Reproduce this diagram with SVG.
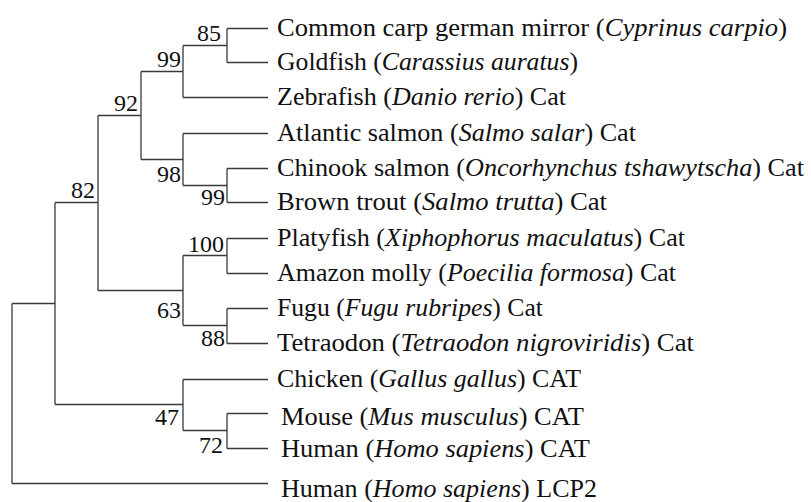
<svg xmlns="http://www.w3.org/2000/svg" width="811" height="502" viewBox="0 0 811 502">
<style>
.br{fill:none;stroke:#3a3a3a;stroke-width:1.3}
text{font-family:'Liberation Serif',Tinos,'Times New Roman',Times,'Nimbus Roman','Nimbus Roman No9 L',FreeSerif,'Noto Serif','DejaVu Serif',serif;fill:#111}
.lb{font-size:25px}
.bs{font-size:24px;text-anchor:end}
.i{font-style:italic}
</style>
<rect width="811" height="502" fill="#fff"/>
<g id="connectors">
<path class="br" d="M12,303.5V483.5M12,303.5H55M12,483.5H268"/>
<path class="br" d="M55,202.5V404.5M55,202.5H98M55,404.5H183"/>
<path class="br" d="M98,115.5V290.5M98,115.5H141M98,290.5H183"/>
<path class="br" d="M141,71.5V159.5M141,71.5H183M141,159.5H183"/>
<path class="br" d="M183,45.5V97.5M183,45.5H227M183,97.5H268"/>
<path class="br" d="M227,28.5V62.5M227,28.5H268M227,62.5H268"/>
<path class="br" d="M183,133.5V185.5M183,133.5H268M183,185.5H227"/>
<path class="br" d="M227,168.5V202.5M227,168.5H268M227,202.5H268"/>
<path class="br" d="M183,255.5V325.5M183,255.5H227M183,325.5H227"/>
<path class="br" d="M227,238.5V273.5M227,238.5H268M227,273.5H268"/>
<path class="br" d="M227,308.5V343.5M227,308.5H268M227,343.5H268"/>
<path class="br" d="M183,379.5V430.5M183,379.5H268M183,430.5H227"/>
<path class="br" d="M227,413.5V448.5M227,413.5H268M227,448.5H268"/>
</g>
<g id="n85"><text class="bs" x="221" y="41">85</text></g>
<g id="n99a"><text class="bs" x="181" y="67">99</text></g>
<g id="n92"><text class="bs" x="138" y="111">92</text></g>
<g id="n98"><text class="bs" x="181" y="182">98</text></g>
<g id="n99b"><text class="bs" x="225" y="205">99</text></g>
<g id="n82"><text class="bs" x="95" y="198">82</text></g>
<g id="n100"><text class="bs" x="224" y="252">100</text></g>
<g id="n63"><text class="bs" x="181" y="318">63</text></g>
<g id="n88"><text class="bs" x="225" y="346">88</text></g>
<g id="n47"><text class="bs" x="179" y="425">47</text></g>
<g id="n72"><text class="bs" x="223" y="453">72</text></g>
<g id="leaf1"><text class="lb" x="277" y="36" textLength="510" lengthAdjust="spacingAndGlyphs">Common carp german mirror (<tspan class="i">Cyprinus carpio</tspan>)</text></g>
<g id="leaf2"><text class="lb" x="277" y="70" textLength="301" lengthAdjust="spacingAndGlyphs">Goldfish (<tspan class="i">Carassius auratus</tspan>)</text></g>
<g id="leaf3"><text class="lb" x="277" y="105" textLength="289" lengthAdjust="spacingAndGlyphs">Zebrafish (<tspan class="i">Danio rerio</tspan>) Cat</text></g>
<g id="leaf4"><text class="lb" x="277" y="141" textLength="359" lengthAdjust="spacingAndGlyphs">Atlantic salmon (<tspan class="i">Salmo salar</tspan>) Cat</text></g>
<g id="leaf5"><text class="lb" x="277" y="176" textLength="527" lengthAdjust="spacingAndGlyphs">Chinook salmon (<tspan class="i">Oncorhynchus tshawytscha</tspan>) Cat</text></g>
<g id="leaf6"><text class="lb" x="277" y="210" textLength="330" lengthAdjust="spacingAndGlyphs">Brown trout (<tspan class="i">Salmo trutta</tspan>) Cat</text></g>
<g id="leaf7"><text class="lb" x="277" y="246" textLength="408" lengthAdjust="spacingAndGlyphs">Platyfish (<tspan class="i">Xiphophorus maculatus</tspan>) Cat</text></g>
<g id="leaf8"><text class="lb" x="277" y="281" textLength="399" lengthAdjust="spacingAndGlyphs">Amazon molly (<tspan class="i">Poecilia formosa</tspan>) Cat</text></g>
<g id="leaf9"><text class="lb" x="277" y="316" textLength="266" lengthAdjust="spacingAndGlyphs">Fugu (<tspan class="i">Fugu rubripes</tspan>) Cat</text></g>
<g id="leaf10"><text class="lb" x="277" y="351" textLength="417" lengthAdjust="spacingAndGlyphs">Tetraodon (<tspan class="i">Tetraodon nigroviridis</tspan>) Cat</text></g>
<g id="leaf11"><text class="lb" x="277" y="387" textLength="304" lengthAdjust="spacingAndGlyphs">Chicken (<tspan class="i">Gallus gallus</tspan>) CAT</text></g>
<g id="leaf12"><text class="lb" x="281" y="425" textLength="303" lengthAdjust="spacingAndGlyphs">Mouse (<tspan class="i">Mus musculus</tspan>) CAT</text></g>
<g id="leaf13"><text class="lb" x="281" y="457" textLength="309" lengthAdjust="spacingAndGlyphs">Human (<tspan class="i">Homo sapiens</tspan>) CAT</text></g>
<g id="leaf14"><text class="lb" x="281" y="497" textLength="316" lengthAdjust="spacingAndGlyphs">Human (<tspan class="i">Homo sapiens</tspan>) LCP2</text></g>
</svg>
